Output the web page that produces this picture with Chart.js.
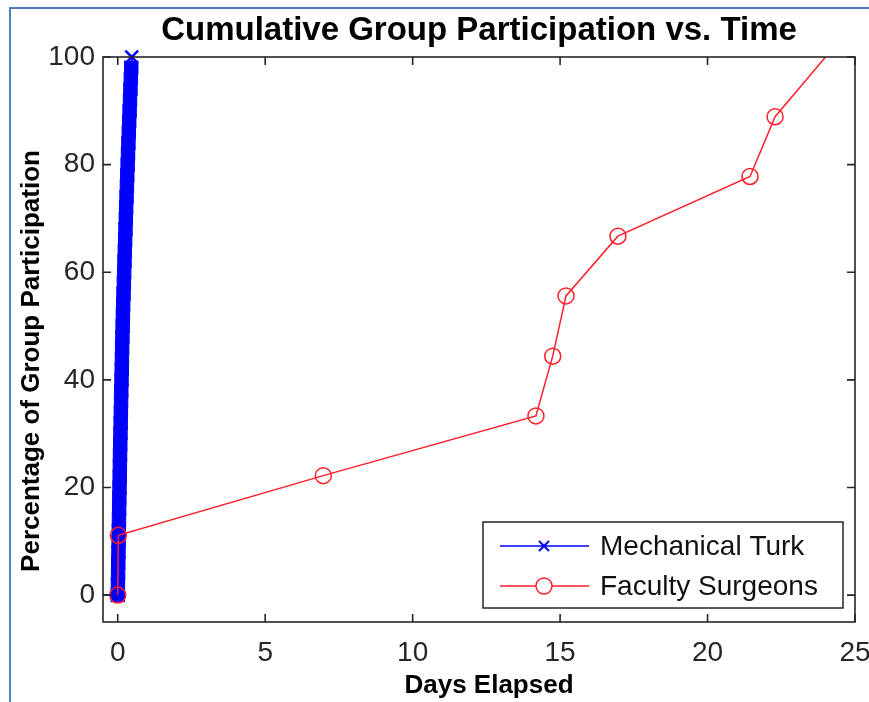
<!DOCTYPE html>
<html><head><meta charset="utf-8">
<script src="https://cdn.jsdelivr.net/npm/chart.js@4"></script>
<style>
html,body{margin:0;padding:0;background:#fff;}
#wrap{position:relative;width:869px;height:702px;overflow:hidden;}
#frame{position:absolute;left:9px;top:7px;right:-4px;bottom:-4px;border-top:2px solid #4f7fbf;border-left:2px solid #4f7fbf;pointer-events:none;}
canvas{display:block}
</style></head><body>
<div id="wrap"><canvas id="c" width="869" height="702"></canvas><div id="frame"></div></div>
<script>
const chartTitle = 'Cumulative Group Participation vs. Time';
const xTitle = 'Days Elapsed';
const yTitle = 'Percentage of Group Participation';
const xTicks = [0, 5, 10, 15, 20, 25];
const yTicks = [0, 20, 40, 60, 80, 100];
const seriesNames = ['Mechanical Turk', 'Faculty Surgeons'];

const turkDays = [-1, 0.000,0.006,0.012,0.018,0.024,0.030,0.036,0.042,0.048,0.054,0.060,0.066,0.072,0.078,
  0.085,0.092,0.099,0.106,0.113,0.120,0.128,0.135,0.142,0.150,0.158,0.166,0.175,0.185,0.196,0.207,
  0.218,0.229,0.240,0.251,0.262,0.274,0.286,0.298,0.311,0.323,0.336,0.349,0.362,0.375,0.389,0.402,
  0.416,0.430,0.444,0.458,0.475];
const turkPct = [0, 0,2,4,6,8,10,12,14,16,18,20,22,24,26,
  28,30,32,34,36,38,40,42,44,46,48,50,52,54,56,58,
  60,62,64,66,68,70,72,74,76,78,80,82,84,86,88,90,
  92,94,96,98,100];

const surgeonDays = [0, 0.02, 6.97, 14.18, 14.75, 15.2, 16.96, 21.44, 22.29, 24.0];
const surgeonPct  = [0, 11.1, 22.2, 33.3, 44.4, 55.6, 66.7, 77.8, 88.9, 100];

const FONT = '"Liberation Sans", Arial, Helvetica, sans-serif';
const BLUE = '#0000ff';
const RED = '#ff1f2a';
const AX = '#262626';

const turkData = turkDays.map((d, i) => ({x: d, y: turkPct[i]}));
const surgeonData = surgeonDays.map((d, i) => ({x: d, y: surgeonPct[i]}));

const boxPlugin = {
  id: 'boxPlugin',
  afterDatasetsDraw(chart) {
    const {ctx, chartArea: a, scales} = chart;
    ctx.save();
    ctx.strokeStyle = AX;
    ctx.lineWidth = 1.6;
    ctx.strokeRect(a.left, a.top, a.right - a.left, a.bottom - a.top);
    ctx.beginPath();
    const tl = 8;
    xTicks.forEach(v => {
      const px = scales.x.getPixelForValue(v);
      ctx.moveTo(px, a.bottom); ctx.lineTo(px, a.bottom - tl);
      ctx.moveTo(px, a.top); ctx.lineTo(px, a.top + tl);
    });
    yTicks.forEach(v => {
      const py = scales.y.getPixelForValue(v);
      ctx.moveTo(a.left, py); ctx.lineTo(a.left + tl, py);
      ctx.moveTo(a.right, py); ctx.lineTo(a.right - tl, py);
    });
    ctx.stroke();
    ctx.restore();
  },
  afterDraw(chart) {
    const {ctx} = chart;
    ctx.save();
    // axis titles
    ctx.fillStyle = '#000';
    ctx.font = 'bold 26px ' + FONT;
    ctx.textAlign = 'center';
    ctx.textBaseline = 'middle';
    ctx.fillText(xTitle, 489, 686);
    ctx.save();
    ctx.translate(32, 361);
    ctx.rotate(-Math.PI / 2);
    ctx.fillText(yTitle, 0, 0);
    ctx.restore();

    // legend
    const L = 483, T = 522, R = 843, B = 608;
    ctx.fillStyle = '#fff';
    ctx.fillRect(L, T, R - L, B - T);
    ctx.strokeStyle = AX;
    ctx.lineWidth = 1.5;
    ctx.strokeRect(L, T, R - L, B - T);
    const rows = [546, 586];
    const x0 = 500, x1 = 589, xm = 544;
    // row 1
    ctx.strokeStyle = BLUE;
    ctx.lineWidth = 1.5;
    ctx.beginPath(); ctx.moveTo(x0, rows[0]); ctx.lineTo(x1, rows[0]); ctx.stroke();
    ctx.lineWidth = 2;
    ctx.beginPath();
    ctx.moveTo(xm - 5, rows[0] - 5); ctx.lineTo(xm + 5, rows[0] + 5);
    ctx.moveTo(xm - 5, rows[0] + 5); ctx.lineTo(xm + 5, rows[0] - 5);
    ctx.stroke();
    // row 2
    ctx.strokeStyle = RED;
    ctx.lineWidth = 1.5;
    ctx.beginPath(); ctx.moveTo(x0, rows[1]); ctx.lineTo(xm - 8, rows[1]);
    ctx.moveTo(xm + 8, rows[1]); ctx.lineTo(x1, rows[1]); ctx.stroke();
    ctx.beginPath(); ctx.arc(xm, rows[1], 8, 0, Math.PI * 2); ctx.stroke();
    ctx.fillStyle = '#111';
    ctx.font = '28px ' + FONT;
    ctx.textAlign = 'left';
    ctx.textBaseline = 'middle';
    ctx.fillText(seriesNames[0], 600, rows[0] + 1);
    ctx.fillText(seriesNames[1], 600, rows[1] + 1);
    ctx.restore();
  }
};

const lastTurk = turkData.length - 1;

new Chart(document.getElementById('c'), {
  type: 'line',
  data: {
    datasets: [
      {
        label: seriesNames[0],
        data: turkData,
        order: 1,
        borderColor: BLUE,
        borderWidth: 1.5,
        pointStyle: c => c.dataIndex === lastTurk ? 'crossRot' : 'rect',
        pointRadius: c => c.dataIndex === 0 ? 0 : (c.dataIndex === lastTurk ? 9 : 9.5),
        pointBorderWidth: c => c.dataIndex === lastTurk ? 2.5 : 1,
        pointBorderColor: BLUE,
        pointBackgroundColor: BLUE,
        tension: 0,
        clip: {left: 0, top: 7, right: 0, bottom: 0}
      },
      {
        label: seriesNames[1],
        data: surgeonData,
        order: 0,
        borderColor: RED,
        borderWidth: 1.5,
        pointStyle: 'circle',
        pointRadius: c => c.dataIndex === surgeonData.length - 1 ? 0 : 8,
        pointBorderWidth: 1.5,
        pointBorderColor: RED,
        pointBackgroundColor: 'rgba(0,0,0,0)',
        tension: 0
      }
    ]
  },
  options: {
    responsive: false,
    animation: false,
    devicePixelRatio: 1,
    layout: { padding: {left: 0, right: 14, top: 0, bottom: 0} },
    plugins: {
      legend: { display: false },
      tooltip: { enabled: false },
      title: {
        display: true,
        text: chartTitle,
        fullSize: false,
        color: '#000',
        font: { family: FONT, size: 33, weight: 'bold' },
        padding: { top: 11, bottom: 6.4 }
      }
    },
    scales: {
      x: {
        type: 'linear',
        min: -0.5,
        max: 25,
        afterBuildTicks: s => { s.ticks = xTicks.map(v => ({value: v})); },
        afterFit: s => { s.height = 80; s.paddingLeft = 0; s.paddingRight = 0; },
        grid: { display: false, drawTicks: false },
        border: { display: false },
        ticks: { color: AX, font: { family: FONT, size: 28 }, padding: 14, maxRotation: 0, autoSkip: false }
      },
      y: {
        type: 'linear',
        min: -5,
        max: 100,
        afterBuildTicks: s => { s.ticks = yTicks.map(v => ({value: v})); },
        afterFit: s => { s.width = 103; s.paddingTop = 0; s.paddingBottom = 0; },
        grid: { display: false, drawTicks: false },
        border: { display: false },
        ticks: { color: AX, font: { family: FONT, size: 28 }, padding: 8, autoSkip: false }
      }
    }
  },
  plugins: [boxPlugin]
});
</script>
</body></html>
